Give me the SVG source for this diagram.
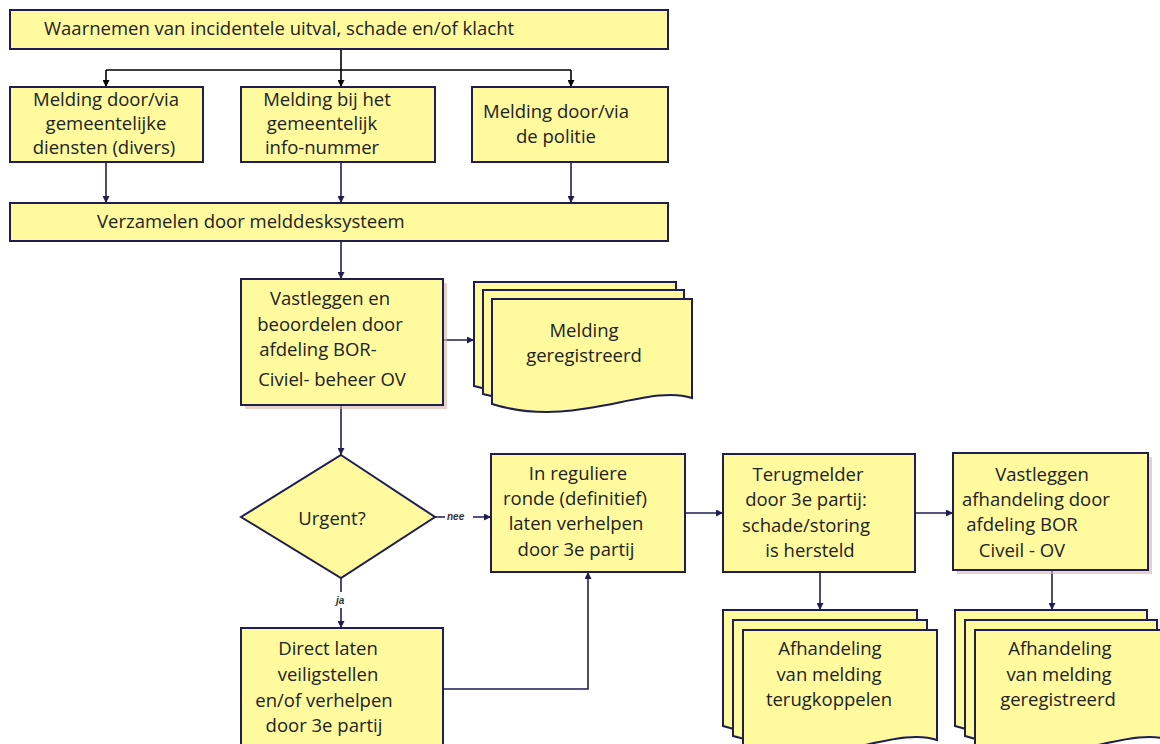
<svg xmlns="http://www.w3.org/2000/svg" width="1160" height="744" viewBox="0 0 1160 744">
<defs>
<style>
.b{fill:#FFFA9E;stroke:#1E1E50;stroke-width:2}
.t{font-family:"Open Sans","Liberation Sans",sans-serif;font-size:18.5px;fill:#222;}
.c{text-anchor:middle}
.l{fill:none;stroke:#1E1E50;stroke-width:1.6}
.k{fill:none;stroke:#000;stroke-width:1.6}
.s{fill:#d9b0a8;opacity:0.6}
.lab{font-family:"Liberation Sans",sans-serif;font-size:10px;font-style:italic;font-weight:bold;fill:#333}
</style>
<marker id="a" viewBox="0 0 10 10" refX="10" refY="5" markerWidth="7" markerHeight="7" orient="auto" markerUnits="userSpaceOnUse"><path d="M0,0L10,5L0,10z" fill="#1E1E50"/></marker>
<marker id="ak" viewBox="0 0 10 10" refX="10" refY="5" markerWidth="7" markerHeight="7" orient="auto" markerUnits="userSpaceOnUse"><path d="M0,0L10,5L0,10z" fill="#000"/></marker>
</defs>
<rect width="1160" height="744" fill="#fff"/>
<g id="connectors">
<path class="k" d="M341,49V70M106,70H571M106,70V87" marker-end="url(#ak)"/>
<path class="k" d="M341,70V87" marker-end="url(#ak)"/>
<path class="k" d="M571,70V87" marker-end="url(#ak)"/>
<path class="l" d="M106,162V203" marker-end="url(#a)"/>
<path class="l" d="M341,162V203" marker-end="url(#a)"/>
<path class="l" d="M571,162V203" marker-end="url(#a)"/>
<path class="l" d="M341,241V279" marker-end="url(#a)"/>
<path class="l" d="M435,340H474" marker-end="url(#a)"/>
<path class="l" d="M341,405V455" marker-end="url(#a)"/>
<path class="l" d="M435,517H445M473,517H491" marker-end="url(#a)"/>
<path class="l" d="M341,578V592M341,608V628" marker-end="url(#a)"/>
<path class="l" d="M443,689H588V572" marker-end="url(#a)"/>
<path class="l" d="M685,513H723" marker-end="url(#a)"/>
<path class="l" d="M915,513H953" marker-end="url(#a)"/>
<path class="l" d="M820,572V610" marker-end="url(#a)"/>
<path class="l" d="M1052,570V610" marker-end="url(#a)"/>
<text class="lab" x="447" y="520">nee</text>
<text class="lab" x="336" y="604">ja</text>
</g>
<g id="n1"><rect class="b" x="10" y="10" width="658" height="39"/><text class="t" x="44" y="35">Waarnemen van incidentele uitval, schade en/of klacht</text></g>
<g id="n2"><rect class="b" x="10" y="87" width="193" height="75"/><text class="t c" x="106" y="106">Melding door/via</text><text class="t c" x="106" y="130">gemeentelijke</text><text class="t c" x="104" y="154">diensten (divers)</text></g>
<g id="n3"><rect class="b" x="241" y="87" width="194" height="75"/><text class="t c" x="327" y="106">Melding bij het</text><text class="t c" x="322" y="130">gemeentelijk</text><text class="t c" x="322" y="154">info-nummer</text></g>
<g id="n4"><rect class="b" x="472" y="87" width="196" height="75"/><text class="t c" x="556" y="118">Melding door/via</text><text class="t c" x="556" y="143">de politie</text></g>
<g id="n5"><rect class="b" x="10" y="203" width="658" height="38"/><text class="t" x="97" y="228">Verzamelen door melddesksysteem</text></g>
<g id="n6"><rect class="s" x="245" y="283" width="202" height="126"/><rect class="b" x="241" y="279" width="202" height="126"/><text class="t c" x="330" y="305">Vastleggen en</text><text class="t c" x="330" y="331">beoordelen door</text><text class="t c" x="318" y="356">afdeling BOR-</text><text class="t c" x="332" y="386">Civiel- beheer OV</text></g>
<g id="n7">
<path class="b" d="M474,282H676V380C630,365 560,410 474,386Z"/>
<path class="b" d="M483,290H684V388C638,373 568,418 483,394Z"/>
<path class="b" d="M492,299H692V398C646,383 576,430 492,404Z"/>
<text class="t c" x="584" y="337">Melding</text><text class="t c" x="584" y="362">geregistreerd</text></g>
<g id="n8"><path class="b" d="M341,455L435,517L341,578L241,517Z"/><text class="t c" x="332" y="525">Urgent?</text></g>
<g id="n9"><rect class="b" x="241" y="628" width="202" height="130"/><text class="t c" x="328" y="655">Direct laten</text><text class="t c" x="328" y="681">veiligstellen</text><text class="t c" x="324" y="707">en/of verhelpen</text><text class="t c" x="324" y="732">door 3e partij</text></g>
<g id="n10"><rect class="b" x="491" y="454" width="194" height="118"/><text class="t c" x="578" y="480">In reguliere</text><text class="t c" x="575" y="505">ronde (definitief)</text><text class="t c" x="576" y="530">laten verhelpen</text><text class="t c" x="576" y="556">door 3e partij</text></g>
<g id="n11"><rect class="b" x="723" y="454" width="192" height="118"/><text class="t c" x="808" y="481">Terugmelder</text><text class="t c" x="806" y="506">door 3e partij:</text><text class="t c" x="806" y="532">schade/storing</text><text class="t c" x="810" y="557">is hersteld</text></g>
<g id="n12"><rect class="s" x="957" y="457" width="195" height="117"/><rect class="b" x="953" y="453" width="195" height="117"/><text class="t c" x="1042" y="481">Vastleggen</text><text class="t c" x="1036" y="506">afhandeling door</text><text class="t c" x="1022" y="531">afdeling BOR</text><text class="t c" x="1022" y="557">Civeil - OV</text></g>
<g id="n13">
<path class="b" d="M723,610H917V720C873,705 806,752 723,726Z"/>
<path class="b" d="M733,620H927V730C883,715 816,762 733,736Z"/>
<path class="b" d="M743,630H937V740C893,725 826,772 743,746Z"/>
<text class="t c" x="830" y="655">Afhandeling</text><text class="t c" x="829" y="681">van melding</text><text class="t c" x="829" y="706">terugkoppelen</text></g>
<g id="n14">
<path class="b" d="M955,610H1147V720C1103,705 1036,752 955,726Z"/>
<path class="b" d="M965,620H1157V730C1113,715 1046,762 965,736Z"/>
<path class="b" d="M975,630H1170V740C1126,725 1059,772 975,746Z"/>
<text class="t c" x="1060" y="655">Afhandeling</text><text class="t c" x="1059" y="681">van melding</text><text class="t c" x="1058" y="706">geregistreerd</text></g>
</svg>
